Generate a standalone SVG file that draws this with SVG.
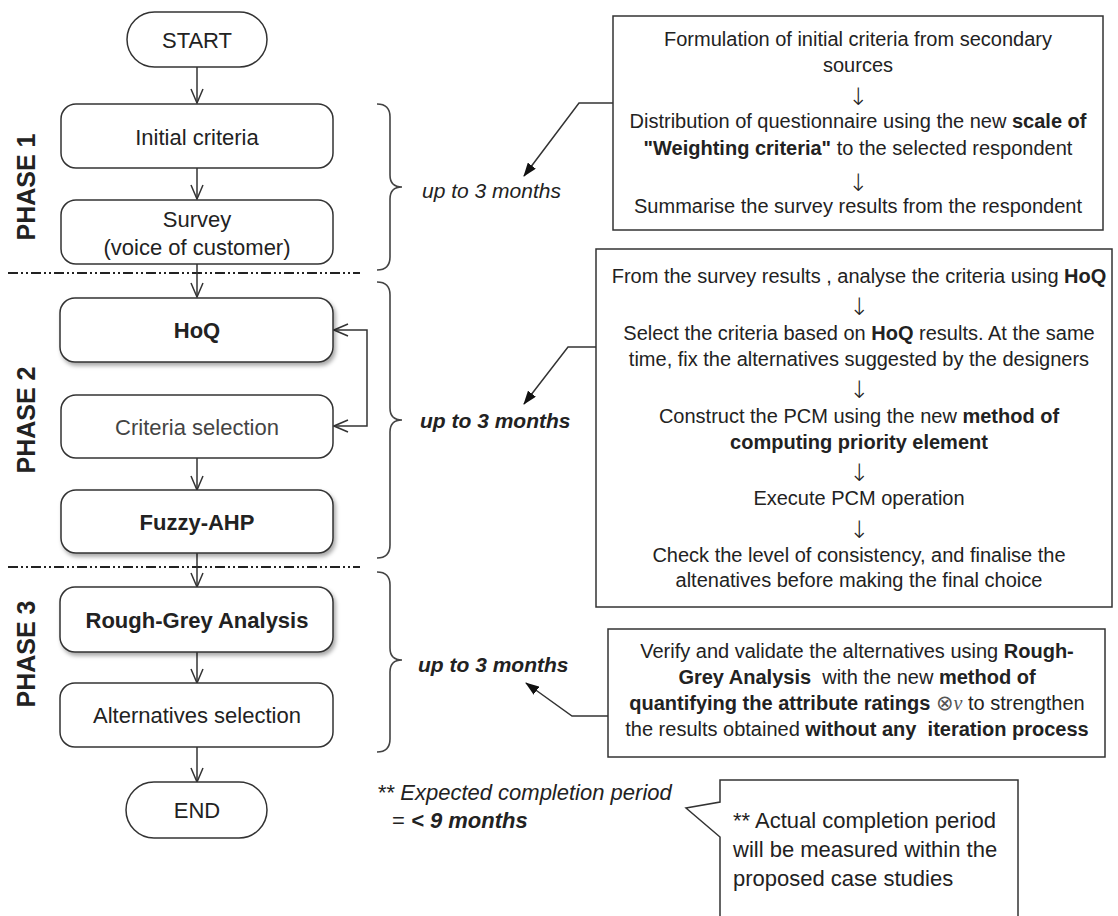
<svg xmlns="http://www.w3.org/2000/svg" width="1118" height="916" viewBox="0 0 1118 916">
<style>
text{font-family:"Liberation Sans",Arial,sans-serif;fill:#222;}
.node{fill:#fff;stroke:#333;stroke-width:1.5;}
.lbl{font-size:22px;text-anchor:middle;}
.b{font-weight:bold;}
.phase{font-size:25px;font-weight:bold;text-anchor:middle;}
.dur{font-size:21px;font-style:italic;}
.box{fill:#fff;stroke:#333;stroke-width:1.5;}
.bt{font-size:20px;text-anchor:middle;}
.ar{font-family:"DejaVu Sans",sans-serif;font-weight:200;font-size:24px;text-anchor:middle;fill:#222;}
.flow{fill:none;stroke:#333;stroke-width:1.5;marker-end:url(#open);}
.call{fill:none;stroke:#333;stroke-width:1.5;marker-end:url(#solid);}
.brace{fill:none;stroke:#444;stroke-width:1.6;}
.sep{fill:none;stroke:#222;stroke-width:1.8;stroke-dasharray:10 3 2 3 2 3;}
</style>
<defs>
<marker id="open" viewBox="0 0 16 14" refX="15" refY="7" markerWidth="16" markerHeight="14" markerUnits="userSpaceOnUse" orient="auto-start-reverse">
<path d="M1,1 L15,7 L1,13" fill="none" stroke="#333" stroke-width="1.5"/>
</marker>
<marker id="solid" viewBox="0 0 14 10" refX="13" refY="5" markerWidth="14" markerHeight="10" markerUnits="userSpaceOnUse" orient="auto">
<path d="M0,0 L14,5 L0,10 Z" fill="#111"/>
</marker>
<filter id="sh" x="-10%" y="-20%" width="130%" height="150%">
<feDropShadow dx="2" dy="3" stdDeviation="2" flood-color="#000" flood-opacity="0.35"/>
</filter>
</defs>
<rect x="0" y="0" width="1118" height="916" fill="#fff"/>

<!-- phase separators -->
<line class="sep" x1="8" y1="273" x2="360" y2="273"/>
<line class="sep" x1="8" y1="567" x2="360" y2="567"/>

<!-- phase labels -->
<text class="phase" transform="translate(35,187) rotate(-90)">PHASE 1</text>
<text class="phase" transform="translate(35,420) rotate(-90)">PHASE 2</text>
<text class="phase" transform="translate(35,654) rotate(-90)">PHASE 3</text>

<g id="connectors">
<path class="flow" d="M197,67 L197,103"/>
<path class="flow" d="M197,168 L197,199"/>
<path class="flow" d="M197,263 L197,297"/>
<path class="flow" d="M197,458 L197,490"/>
<path class="flow" d="M197,553 L197,587"/>
<path class="flow" d="M197,652 L197,683"/>
<path class="flow" d="M197,747 L197,782"/>
<path class="flow" style="marker-start:url(#open)" d="M334,330 L367,330 L367,426 L334,426"/>
<path class="call" d="M613,103 L579,103 L524,176"/>
<path class="call" d="M596,347 L568,347 L524,404"/>
<path class="call" d="M608,716 L572,716 L526,683"/>
</g>

<g id="start">
<rect class="node" x="127" y="12" width="140" height="55" rx="27.5"/>
<text class="lbl" x="197" y="48">START</text>
</g>
<g id="initial-criteria">
<rect class="node" x="61" y="104" width="272" height="64" rx="15"/>
<text class="lbl" x="197" y="145">Initial criteria</text>
</g>
<g id="survey">
<rect class="node" x="61" y="200" width="272" height="64" rx="15"/>
<text class="lbl" x="197" y="227">Survey</text>
<text class="lbl" x="197" y="255">(voice of customer)</text>
</g>
<g id="hoq">
<rect class="node" x="60" y="298" width="273" height="64" rx="15" filter="url(#sh)"/>
<text class="lbl b" x="197" y="338">HoQ</text>
</g>
<g id="criteria-selection">
<rect class="node" x="61" y="395" width="272" height="63" rx="15"/>
<text class="lbl" x="197" y="435" style="fill:#444">Criteria selection</text>
</g>
<g id="fuzzy-ahp">
<rect class="node" x="61" y="490" width="272" height="63" rx="15" filter="url(#sh)"/>
<text class="lbl b" x="197" y="530">Fuzzy-AHP</text>
</g>
<g id="rough-grey">
<rect class="node" x="60" y="587" width="273" height="65" rx="15" filter="url(#sh)"/>
<text class="lbl b" x="197" y="628">Rough-Grey Analysis</text>
</g>
<g id="alternatives-selection">
<rect class="node" x="60" y="683" width="273" height="64" rx="15"/>
<text class="lbl" x="197" y="723">Alternatives selection</text>
</g>
<g id="end">
<rect class="node" x="126" y="782" width="141" height="56" rx="28"/>
<text class="lbl" x="197" y="818">END</text>
</g>

<!-- braces -->
<g id="brace-1">
<path class="brace" d="M377,104 Q390,104 390,117 L390,175 Q390,187 402,187 Q390,187 390,199 L390,257 Q390,270 377,270"/>
<text class="dur" x="422" y="198">up to 3 months</text>
</g>
<g id="brace-2">
<path class="brace" d="M377,282 Q390,282 390,295 L390,408 Q390,420 402,420 Q390,420 390,432 L390,545 Q390,558 377,558"/>
<text class="dur b" x="420" y="428">up to 3 months</text>
</g>
<g id="brace-3">
<path class="brace" d="M377,572 Q390,572 390,585 L390,648 Q390,660 402,660 Q390,660 390,672 L390,739 Q390,752 377,752"/>
<text class="dur b" x="418" y="672">up to 3 months</text>
</g>

<g id="phase1-box">
<rect class="box" x="613" y="16" width="490" height="214"/>
<text class="bt" x="858" y="46">Formulation of initial criteria from secondary</text>
<text class="bt" x="858" y="72">sources</text>
<text class="ar" x="858" y="105">↓</text>
<text class="bt" x="858" y="128">Distribution of questionnaire using the new <tspan class="b">scale of</tspan></text>
<text class="bt" x="858" y="155"><tspan class="b">"Weighting criteria"</tspan> to the selected respondent</text>
<text class="ar" x="858" y="191">↓</text>
<text class="bt" x="858" y="213">Summarise the survey results from the respondent</text>
</g>

<g id="phase2-box">
<rect class="box" x="596" y="249" width="516" height="358"/>
<text class="bt" x="859" y="283">From the survey results , analyse the criteria using <tspan class="b">HoQ</tspan></text>
<text class="ar" x="859" y="315">↓</text>
<text class="bt" x="859" y="340">Select the criteria based on <tspan class="b">HoQ</tspan> results. At the same</text>
<text class="bt" x="859" y="366">time, fix the alternatives suggested by the designers</text>
<text class="ar" x="859" y="398">↓</text>
<text class="bt" x="859" y="423">Construct the PCM using the new <tspan class="b">method of</tspan></text>
<text class="bt b" x="859" y="449">computing priority element</text>
<text class="ar" x="859" y="481">↓</text>
<text class="bt" x="859" y="505">Execute PCM operation</text>
<text class="ar" x="859" y="538">↓</text>
<text class="bt" x="859" y="562">Check the level of consistency, and finalise the</text>
<text class="bt" x="859" y="587">altenatives before making the final choice</text>
</g>

<g id="phase3-box">
<rect class="box" x="608" y="629" width="497" height="128"/>
<text class="bt" x="857" y="658">Verify and validate the alternatives using <tspan class="b">Rough-</tspan></text>
<text class="bt" x="857" y="684" xml:space="preserve"><tspan class="b">Grey Analysis</tspan>  with the new <tspan class="b">method of</tspan></text>
<text class="bt" x="857" y="710"><tspan class="b">quantifying the attribute ratings</tspan> <tspan style="font-family:'DejaVu Sans',sans-serif;font-style:italic;font-weight:200;font-size:21px;fill:#555">⊗</tspan><tspan style="font-family:'Liberation Serif',serif;font-style:italic;fill:#555">v</tspan> to strengthen</text>
<text class="bt" x="857" y="736" xml:space="preserve">the results obtained <tspan class="b">without any  iteration process</tspan></text>
</g>

<g id="expected">
<text x="377" y="800" style="font-size:22px;font-style:italic">** Expected completion period</text>
<text x="392" y="828" style="font-size:22px">= <tspan style="font-weight:bold;font-style:italic">&lt; 9 months</tspan></text>
</g>

<g id="actual-callout">
<path class="box" d="M720,802 L720,780 L1018,780 L1018,930 L720,930 L720,837 L686,808 Z"/>
<text x="733" y="828" style="font-size:22px">** Actual completion period</text>
<text x="733" y="857" style="font-size:22px">will be measured within the</text>
<text x="733" y="886" style="font-size:22px">proposed case studies</text>
</g>
</svg>
